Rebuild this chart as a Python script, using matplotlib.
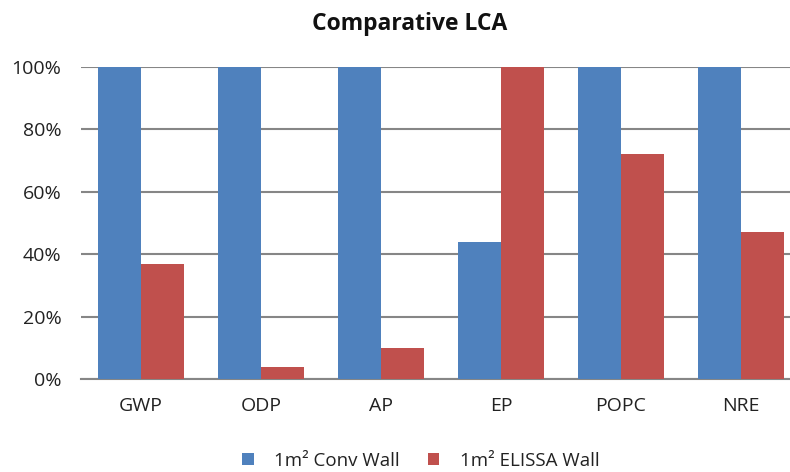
import matplotlib.pyplot as plt
import numpy as np

plt.rcParams['font.family'] = ['Open Sans', 'DejaVu Sans']

categories = ["GWP", "ODP", "AP", "EP", "POPC", "NRE"]
conv_wall = [100, 100, 100, 44, 100, 100]
elissa_wall = [37, 4, 10, 100, 72, 47]
yticks = [0, 20, 40, 60, 80, 100]

fig = plt.figure(figsize=(7.9, 4.72), dpi=100)
# plot area runs a bit past the right edge of the figure
ax = fig.add_axes([81 / 790, 93 / 472, 720 / 790, 312 / 472])

x = np.arange(len(categories))
w = 0.36
ax.bar(x - w / 2, conv_wall, w, color="#4F81BD", label="1m² Conv Wall", zorder=3)
ax.bar(x + w / 2, elissa_wall, w, color="#C0504D", label="1m² ELISSA Wall", zorder=3)

ax.set_xlim(-0.5, len(categories) - 0.5)
ax.set_ylim(0, 100)
ax.set_yticks(yticks)
ax.set_yticklabels([f"{v}%" for v in yticks])
ax.set_xticks(x)
ax.set_xticklabels(categories)
ax.yaxis.grid(True, color="#868686", linewidth=1.5, zorder=0)
ax.set_axisbelow(True)
for s in ["top", "right", "left"]:
    ax.spines[s].set_visible(False)
ax.spines["bottom"].set_color("#868686")
ax.spines["bottom"].set_linewidth(1.5)
ax.tick_params(axis="both", length=0, labelsize=14, colors="#222222")
ax.tick_params(axis="y", pad=14)
ax.tick_params(axis="x", pad=13)

fig.text(410 / 790, 1 - 24 / 472, "Comparative LCA", ha="center", va="center",
         fontsize=16.5, fontweight="bold", color="#111111")

fig.legend(loc="center", bbox_to_anchor=(421 / 790, 1 - 461 / 472), ncol=2,
           frameon=False, fontsize=13.5, handlelength=0.6, handleheight=0.6,
           columnspacing=1.5, handletextpad=1.1, labelcolor="#222222")

fig.savefig("out.png", dpi=100)
